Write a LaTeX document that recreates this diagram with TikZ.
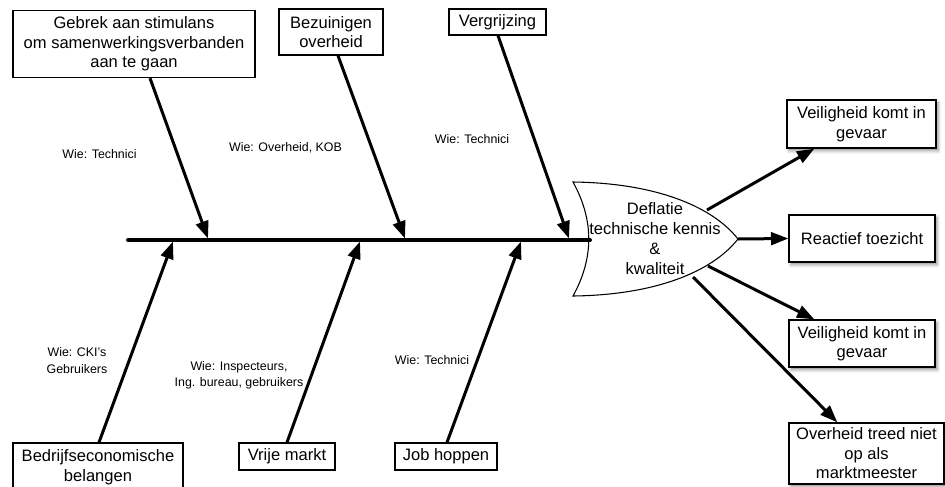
\documentclass[tikz,border=0pt]{standalone}
\usepackage{fontspec}
\setmainfont{Liberation Sans}
\usetikzlibrary{arrows.meta,shadows.blur}

\tikzset{
  box/.style={draw, line width=1pt, fill=white, align=center, inner sep=0pt,
    font=\fontsize{12.4}{14.6}\selectfont},
  shadowbox/.style={box, blur shadow={shadow xshift=1.5pt, shadow yshift=-2pt,
    shadow blur radius=2.5pt, shadow opacity=45}},
  who/.style={align=center, inner sep=0pt, font=\fontsize{9.3}{13}\selectfont},
  spine/.style={line width=3pt, line cap=round},
  bone/.style={line width=2.25pt, -{Triangle[length=13pt,width=9.5pt]}},
  fishline/.style={line width=0.8pt, fill=white},
}

\begin{document}
\begin{tikzpicture}[x=0.75pt, y=-0.75pt]
  \useasboundingbox (0,0) rectangle (945,486);

  % cause boxes above the spine
  \node[box, minimum width=181.5pt, minimum height=50.25pt] (b1) at (134,44)
    {Gebrek aan stimulans\\om samenwerkingsverbanden\\aan te gaan};
  \node[box, minimum width=78pt, minimum height=34.5pt] (b2) at (331,32)
    {Bezuinigen\\overheid};
  \node[box, minimum width=72.75pt, minimum height=19.5pt] (b3) at (497.5,22)
    {Vergrijzing};

  % cause boxes below the spine
  \node[box, minimum width=127.5pt, minimum height=36pt] (c1) at (98,467)
    {Bedrijfseconomische\\belangen};
  \node[box, minimum width=72pt, minimum height=20.25pt] (c2) at (287,456.5)
    {Vrije markt};
  \node[box, minimum width=76.5pt, minimum height=20.25pt] (c3) at (446,456.5)
    {Job hoppen};

  % actors
  \node[who] (w1) at (99.5,153.6) {Wie: Technici};
  \node[who] (w2) at (285.5,147.8) {Wie: Overheid, KOB};
  \node[who] (w3) at (472,139.4) {Wie: Technici};
  \node[who] (w4) at (77,360.7) {Wie: CKI's\\Gebruikers};
  \node[who, font=\fontsize{9.3}{12.3}\selectfont] (w5) at (239,375.2)
    {Wie: Inspecteurs,\\Ing. bureau, gebruikers};
  \node[who] (w6) at (432,360.5) {Wie: Technici};

  % effect boxes
  \node[shadowbox, minimum width=111.75pt, minimum height=36pt] (r1) at (861.5,124)
    {Veiligheid komt in\\gevaar};
  \node[shadowbox, minimum width=109.5pt, minimum height=35.25pt] (r2) at (862,238.5)
    {Reactief toezicht};
  \node[shadowbox, minimum width=109.5pt, minimum height=35.25pt] (r3) at (862,343.5)
    {Veiligheid komt in\\gevaar};
  \node[shadowbox, minimum width=116.25pt, minimum height=45.75pt] (r4) at (866.5,453.5)
    {Overheid treed niet\\op als\\marktmeester};

  % fish head
  \draw[fishline] (573,182) .. controls (655,183) and (712,206) .. (738,239)
    .. controls (712,272) and (655,295) .. (573,296)
    .. controls (594,258) and (594,220) .. cycle;
  \node[align=center, inner sep=0pt, font=\fontsize{12.4}{14.8}\selectfont]
    (fish) at (655,238.5) {Deflatie\\technische kennis\\\&\\kwaliteit};

  % points on the spine and on the head outline
  \coordinate (tail) at (128,240);
  \coordinate (head) at (590,240);
  \coordinate (t1) at (208,238.5);
  \coordinate (t2) at (405,238.5);
  \coordinate (t3) at (569,238.5);
  \coordinate (u1) at (173,241.5);
  \coordinate (u2) at (360,241.5);
  \coordinate (u3) at (521,241.5);
  \coordinate (f1) at (707,210);
  \coordinate (f2) at (738,239);
  \coordinate (f3) at (708,266);
  \coordinate (f4) at (693,277);

  % spine
  \draw[spine] (tail) -- (head);

  % bones
  \draw[bone] ([xshift=12pt]b1.south) -- (t1);
  \draw[bone] ([xshift=5.25pt]b2.south) -- (t2);
  \draw[bone] ([xshift=0.4pt]b3.south) -- (t3);
  \draw[bone] ([xshift=0.75pt]c1.north) -- (u1);
  \draw[bone] (c2.north) -- (u2);
  \draw[bone] ([xshift=0.75pt]c3.north) -- (u3);

  % effects
  \draw[bone] (f1) -- ([xshift=21pt]r1.south west);
  \draw[bone] (f2) -- (r2.west);
  \draw[bone] (f3) -- ([xshift=19.5pt]r3.north west);
  \draw[bone] (f4) -- ([xshift=36.75pt]r4.north west);
\end{tikzpicture}
\end{document}
